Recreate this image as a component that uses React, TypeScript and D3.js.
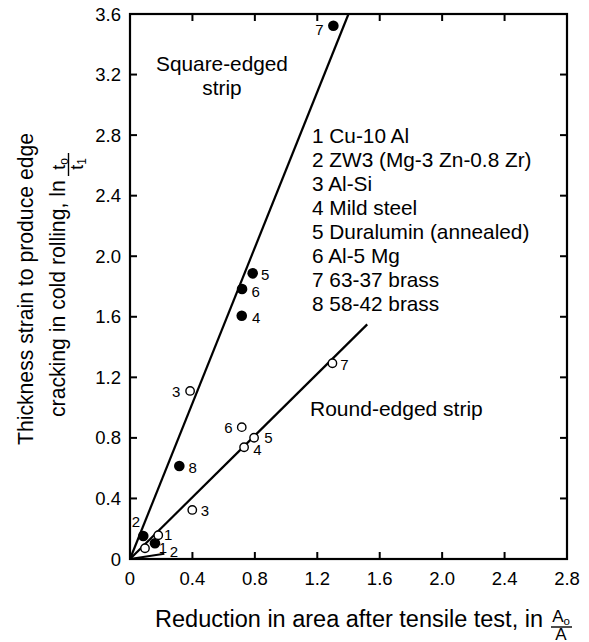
import React from "react";
import * as d3 from "d3";

// ---- data ----
const xTicks = [0, 0.4, 0.8, 1.2, 1.6, 2.0, 2.4, 2.8];
const yTicks = [0, 0.4, 0.8, 1.2, 1.6, 2.0, 2.4, 2.8, 3.2, 3.6];
const xTickLabels = ["0", "0.4", "0.8", "1.2", "1.6", "2.0", "2.4", "2.8"];
const yTickLabels = ["0", "0.4", "0.8", "1.2", "1.6", "2.0", "2.4", "2.8", "3.2", "3.6"];

// filled circles: square-edged strip
const squareIds = ["7", "5", "6", "4", "8", "2", "1"];
const squareX = [1.303, 0.786, 0.718, 0.716, 0.316, 0.085, 0.16];
const squareY = [3.522, 1.887, 1.783, 1.607, 0.614, 0.152, 0.104];

// open circles: round-edged strip
const roundIds = ["7", "3a", "6", "5", "4", "3", "1", "2"];
const roundX = [1.297, 0.385, 0.716, 0.795, 0.731, 0.399, 0.181, 0.096];
const roundY = [1.293, 1.11, 0.871, 0.801, 0.738, 0.324, 0.157, 0.071];

// fitted lines
const squareLine: [number, number][] = [[0, 0], [1.4, 3.6]];
const roundLine: [number, number][] = [[0, 0], [1.52, 1.55]];
const shortLine: [number, number][] = [[0, 0], [0.22, 0.035]];

const legendItems = [
  "1 Cu-10 Al",
  "2 ZW3 (Mg-3 Zn-0.8 Zr)",
  "3 Al-Si",
  "4 Mild steel",
  "5 Duralumin (annealed)",
  "6 Al-5 Mg",
  "7 63-37 brass",
  "8 58-42 brass",
];

// label placement (offsets from point, px)
const squareLabelOffsets: Record<string, [number, number]> = {
  "7": [-14, 3.5], "5": [12.5, 1], "6": [13.7, 2.7], "4": [14.3, 1.3],
  "8": [13.4, 1], "2": [-7.3, -14.3], "1": [8, 4],
};
const roundLabelOffsets: Record<string, [number, number]> = {
  "7": [12, 1], "3a": [-14, 0.7], "6": [-13.4, 0], "5": [14.3, 0],
  "4": [13.3, 2.7], "3": [12.7, 0.7], "1": [10, -1], "2": [29, 3.4],
};

const W = 589, H = 642;
const FONT = "'Liberation Sans', Arial, Helvetica, sans-serif";

export default function App() {
  const x = d3.scaleLinear().domain([0, 2.8]).range([130, 567]);
  const y = d3.scaleLinear().domain([0, 3.6]).range([559, 14]);
  const line = d3.line<[number, number]>().x(d => x(d[0])).y(d => y(d[1]));
  const tick = 7;
  const [x0, x1] = x.range();
  const [y0, y1] = y.range();

  return (
    <svg width={W} height={H} style={{ position: "absolute", left: 0, top: 0, background: "#fff" }}
      fontFamily={FONT}>
      <rect x={0} y={0} width={W} height={H} fill="#fff" />
      {/* frame */}
      <rect x={x0} y={y1} width={x1 - x0} height={y0 - y1} fill="none" stroke="#000" strokeWidth={2.2} />
      {/* ticks */}
      {xTicks.map((t, i) => (
        <g key={"xt" + i}>
          <line x1={x(t)} x2={x(t)} y1={y0} y2={y0 - tick} stroke="#000" strokeWidth={2} />
          <line x1={x(t)} x2={x(t)} y1={y1} y2={y1 + tick} stroke="#000" strokeWidth={2} />
          <text x={x(t)} y={578.5} textAnchor="middle" dominantBaseline="central" fontSize={18.5}>
            {xTickLabels[i]}
          </text>
        </g>
      ))}
      {yTicks.map((t, i) => (
        <g key={"yt" + i}>
          <line x1={x0} x2={x0 + tick} y1={y(t)} y2={y(t)} stroke="#000" strokeWidth={2} />
          <line x1={x1} x2={x1 - tick} y1={y(t)} y2={y(t)} stroke="#000" strokeWidth={2} />
          <text x={121} y={y(t)} textAnchor="end" dominantBaseline="central" fontSize={18.5}>
            {yTickLabels[i]}
          </text>
        </g>
      ))}

      {/* lines */}
      <path d={line(squareLine) || ""} fill="none" stroke="#000" strokeWidth={2.2} />
      <path d={line(roundLine) || ""} fill="none" stroke="#000" strokeWidth={2.2} />
      <path d={line(shortLine) || ""} fill="none" stroke="#000" strokeWidth={2} />

      {/* filled points */}
      {squareIds.map((id, i) => {
        const px = x(squareX[i]), py = y(squareY[i]);
        const [dx, dy] = squareLabelOffsets[id];
        return (
          <g key={"s" + i}>
            <circle cx={px} cy={py} r={5.3} fill="#000" />
            <text x={px + dx} y={py + dy} textAnchor="middle" dominantBaseline="central" fontSize={15}>
              {id.replace("a", "")}
            </text>
          </g>
        );
      })}
      {/* open points */}
      {roundIds.map((id, i) => {
        const px = x(roundX[i]), py = y(roundY[i]);
        const [dx, dy] = roundLabelOffsets[id];
        return (
          <g key={"r" + i}>
            <circle cx={px} cy={py} r={4.2} fill="#fff" stroke="#000" strokeWidth={1.4} />
            <text x={px + dx} y={py + dy} textAnchor="middle" dominantBaseline="central" fontSize={15}>
              {id.replace("a", "")}
            </text>
          </g>
        );
      })}

      {/* annotations */}
      <text x={222} y={63} textAnchor="middle" dominantBaseline="central" fontSize={20.8}>Square-edged</text>
      <text x={222} y={87} textAnchor="middle" dominantBaseline="central" fontSize={20.8}>strip</text>
      <text x={310} y={408} dominantBaseline="central" fontSize={21}>Round-edged strip</text>
      {legendItems.map((s, i) => (
        <text key={"lg" + i} x={312} y={135.5 + i * 24} dominantBaseline="central" fontSize={20.8}>{s}</text>
      ))}

      {/* x axis title */}
      <text x={543} y={627} textAnchor="end" fontSize={23.5}>Reduction in area after tensile test, in</text>
      <g fontSize={17}>
        <text x={561} y={622} textAnchor="middle">A<tspan fontSize={11.5} dy={3}>o</tspan></text>
        <line x1={551} x2={572} y1={627} y2={627} stroke="#000" strokeWidth={1.4} />
        <text x={561} y={639.5} textAnchor="middle">A</text>
      </g>

      {/* y axis title */}
      <g transform="rotate(-90)">
        <text x={-289} y={33} textAnchor="middle" fontSize={21.2}>Thickness strain to produce edge</text>
        <text x={-417} y={65} textAnchor="start" fontSize={21.2}>cracking in cold rolling, ln</text>
        <text x={-164} y={65} textAnchor="middle" fontSize={18}>t<tspan fontSize={12} dy={3}>o</tspan></text>
        <line x1={-176} x2={-153} y1={68.5} y2={68.5} stroke="#000" strokeWidth={1.4} />
        <text x={-164} y={83} textAnchor="middle" fontSize={18}>t<tspan fontSize={12} dy={3}>1</tspan></text>
      </g>
    </svg>
  );
}
